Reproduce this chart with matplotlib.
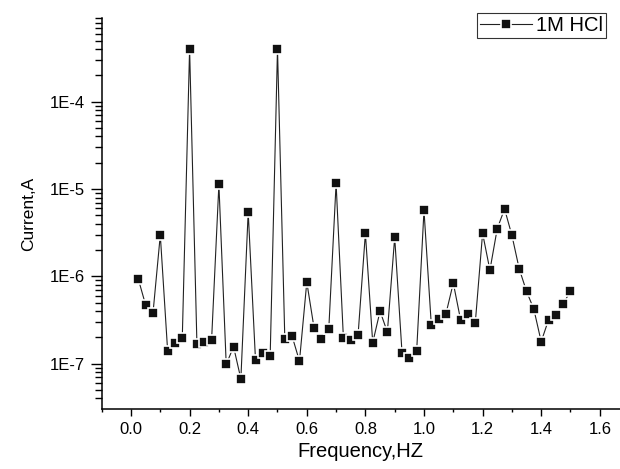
import numpy as np
import matplotlib
matplotlib.use("Agg")
import matplotlib.pyplot as plt
from matplotlib.ticker import FixedLocator, LogLocator, FuncFormatter, MultipleLocator

plt.rcParams['font.family'] = ['Liberation Sans', 'DejaVu Sans']

frequency = [0.025, 0.05, 0.075, 0.1, 0.125, 0.15, 0.175, 0.2, 0.225, 0.25,
             0.275, 0.3, 0.325, 0.35, 0.375, 0.4, 0.425, 0.45, 0.475, 0.5,
             0.525, 0.55, 0.575, 0.6, 0.625, 0.65, 0.675, 0.7, 0.725, 0.75,
             0.775, 0.8, 0.825, 0.85, 0.875, 0.9, 0.925, 0.95, 0.975, 1.0,
             1.025, 1.05, 1.075, 1.1, 1.125, 1.15, 1.175, 1.2, 1.225, 1.25,
             1.275, 1.3, 1.325, 1.35, 1.375, 1.4, 1.425, 1.45, 1.475, 1.5]
current = [9.3e-7, 4.7e-7, 3.78e-7, 2.98e-6, 1.41e-7, 1.74e-7, 1.95e-7, 4.03e-4, 1.68e-7, 1.77e-7,
           1.85e-7, 1.13e-5, 9.8e-8, 1.57e-7, 6.7e-8, 5.47e-6, 1.09e-7, 1.33e-7, 1.22e-7, 4.03e-4,
           1.92e-7, 2.06e-7, 1.07e-7, 8.6e-7, 2.54e-7, 1.9e-7, 2.48e-7, 1.16e-5, 1.95e-7, 1.85e-7,
           2.13e-7, 3.12e-6, 1.74e-7, 4.0e-7, 2.3e-7, 2.8e-6, 1.34e-7, 1.16e-7, 1.4e-7, 5.7e-6,
           2.77e-7, 3.25e-7, 3.74e-7, 8.4e-7, 3.17e-7, 3.68e-7, 2.92e-7, 3.12e-6, 1.18e-6, 3.52e-6,
           5.92e-6, 2.96e-6, 1.22e-6, 6.75e-7, 4.2e-7, 1.79e-7, 3.17e-7, 3.61e-7, 4.83e-7, 6.8e-7]
series_label = "1M HCl"
x_label = "Frequency,HZ"
y_label = "Current,A"
x_ticks = [0.0, 0.2, 0.4, 0.6, 0.8, 1.0, 1.2, 1.4, 1.6]

fig = plt.figure(figsize=(6.2, 4.69), dpi=100)
ax = fig.add_axes([101.7/620, 1-409/469, (620-101.7)/620, (409-18)/469])

ax.plot(frequency, current, color='#222222', lw=0.8, marker='s', ms=7.2,
        mfc='#111111', mec='white', mew=1.2, label=series_label)

ax.set_yscale('log')
ax.set_xlim(-0.1, 1.669)
ax.set_ylim(3.03e-8, 9.1e-4)

ax.xaxis.set_major_locator(FixedLocator(x_ticks))
ax.xaxis.set_minor_locator(MultipleLocator(0.1))
ax.xaxis.set_major_formatter(FuncFormatter(lambda v, p: f"{v:.1f}"))
ax.yaxis.set_major_locator(LogLocator(base=10, numticks=20))
ax.yaxis.set_minor_locator(LogLocator(base=10, subs=np.arange(2, 10), numticks=20))
ax.yaxis.set_major_formatter(FuncFormatter(lambda v, p: f"1E{int(round(np.log10(v)))}"))

for s in ['top', 'right']:
    ax.spines[s].set_visible(False)
for s in ['left', 'bottom']:
    ax.spines[s].set_linewidth(1.1)

ax.tick_params(axis='x', which='major', direction='out', length=5, width=1.0, labelsize=12, pad=4)
ax.tick_params(axis='x', which='minor', direction='out', length=2.5, width=1.0)
ax.tick_params(axis='y', which='major', direction='out', length=8, width=1.0, labelsize=12, pad=4)
ax.tick_params(axis='y', which='minor', direction='out', length=4.8, width=1.0)

ax.set_xlabel(x_label, fontsize=14.5, labelpad=4)
ax.set_ylabel(y_label, fontsize=12.5, labelpad=10)

leg = ax.legend(loc='upper right', bbox_to_anchor=(606/620, 1-13/469),
                bbox_transform=fig.transFigure, borderaxespad=0, fontsize=14.5,
                frameon=True, fancybox=False, handlelength=2.6, handletextpad=0.2,
                borderpad=0.15)
leg.get_frame().set_edgecolor('black')
leg.get_frame().set_linewidth(0.8)

fig.savefig('out.png', dpi=100)
